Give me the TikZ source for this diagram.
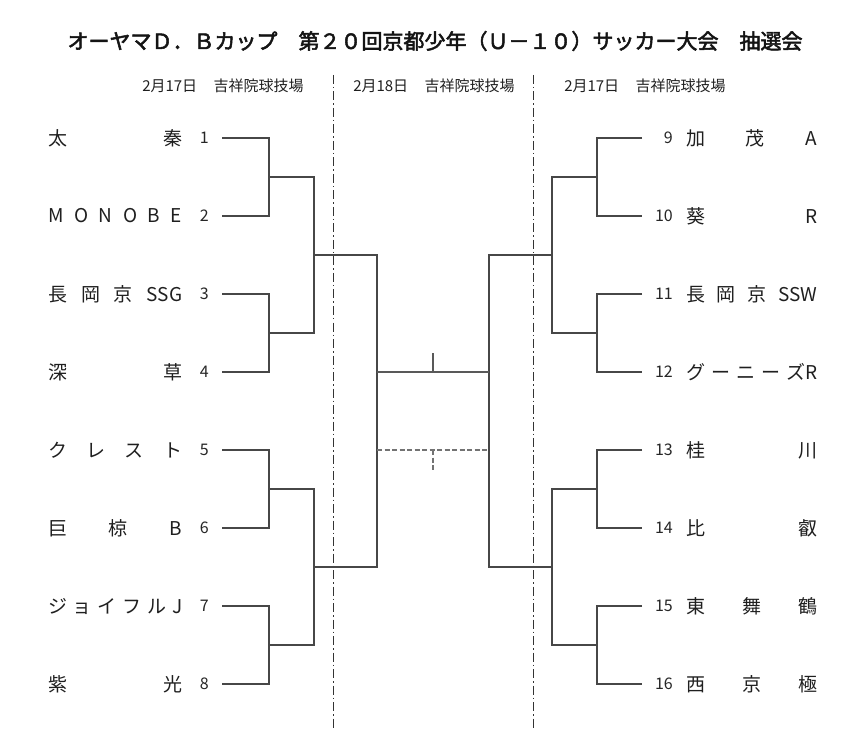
\documentclass[tikz,border=0pt]{standalone}
\usepackage{fontspec}
\setmainfont{Noto Sans CJK JP}
\newfontfamily\ttlfont[FakeBold=2.5]{Noto Sans CJK JP}
\newcommand\tmbox[2]{\makebox[#1][s]{#2}}
\begin{document}
\begin{tikzpicture}[x=1pt,y=-1pt,
  team/.style={inner sep=0pt, font=\fontsize{19}{19}\selectfont, text=black!88},
  num/.style={inner sep=0pt, font=\fontsize{16}{16}\selectfont, text=black!85},
  head/.style={inner sep=0pt, font=\fontsize{15}{15}\selectfont, text=black!88},
  ttl/.style={inner sep=0pt, font=\ttlfont\fontsize{21}{21}\selectfont, text=black!92},
  br/.style={draw=black!72, line width=1.1pt},
  divider/.style={draw=black!80, line width=0.9pt, dash pattern=on 9pt off 3pt on 1.5pt off 3pt},
  fin/.style={draw=black!65, line width=1.1pt},
  findash/.style={draw=black!55, line width=1.1pt, dash pattern=on 5pt off 2.5pt}]
\useasboundingbox[fill=white] (0,0) rectangle (852,738);

% title and headers
\node[ttl] (title) at (435,41) {オーヤマＤ．Ｂカップ　第２０回京都少年（Ｕ－１０）サッカー大会　抽選会};
\node[head] (h1) at (223,86) {2月17日\hspace{1.1em}吉祥院球技場};
\node[head] (h2) at (434,86) {2月18日\hspace{1.1em}吉祥院球技場};
\node[head] (h3) at (645,86) {2月17日\hspace{1.1em}吉祥院球技場};

% dividers
\coordinate (dA1) at (333,75); \coordinate (dA2) at (333,728);
\coordinate (dB1) at (533,75); \coordinate (dB2) at (533,728);
\draw[divider] (dA1) -- (dA2);
\draw[divider] (dB1) -- (dB2);

% left teams
\node[team, anchor=west] (t1) at (48,138) {\tmbox{134pt}{太\hfill 秦}};
\node[team, anchor=west] (t2) at (48,216) {\tmbox{134pt}{M\hfill O\hfill N\hfill O\hfill B\hfill E}};
\node[team, anchor=west] (t3) at (48,294) {\tmbox{134pt}{長\hfill 岡\hfill 京\hfill SSG}};
\node[team, anchor=west] (t4) at (48,372) {\tmbox{134pt}{深\hfill 草}};
\node[team, anchor=west] (t5) at (48,450) {\tmbox{134pt}{ク\hfill レ\hfill ス\hfill ト}};
\node[team, anchor=west] (t6) at (48,528) {\tmbox{134pt}{巨\hfill 椋\hfill B}};
\node[team, anchor=west] (t7) at (48,606) {\tmbox{134pt}{ジ\hfill ョ\hfill イ\hfill フ\hfill ル\hfill J}};
\node[team, anchor=west] (t8) at (48,684) {\tmbox{134pt}{紫\hfill 光}};

% right teams
\node[team, anchor=west] (t9) at (686,138) {\tmbox{131pt}{加\hfill 茂\hfill A}};
\node[team, anchor=west] (t10) at (686,216) {\tmbox{131pt}{葵\hfill R}};
\node[team, anchor=west] (t11) at (686,294) {\tmbox{131pt}{長\hfill 岡\hfill 京\hfill SSW}};
\node[team, anchor=west] (t12) at (686,372) {\tmbox{131pt}{グ\hfill ー\hfill ニ\hfill ー\hfill ズR}};
\node[team, anchor=west] (t13) at (686,450) {\tmbox{131pt}{桂\hfill 川}};
\node[team, anchor=west] (t14) at (686,528) {\tmbox{131pt}{比\hfill 叡}};
\node[team, anchor=west] (t15) at (686,606) {\tmbox{131pt}{東\hfill 舞\hfill 鶴}};
\node[team, anchor=west] (t16) at (686,684) {\tmbox{131pt}{西\hfill 京\hfill 極}};

% numbers and line starts
\foreach \i/\y in {1/138,2/216,3/294,4/372,5/450,6/528,7/606,8/684}{
  \node[num, anchor=east] (n\i) at (209,\y) {\i};
  \coordinate (s\i) at (222,\y);
}
\foreach \i/\y in {9/138,10/216,11/294,12/372,13/450,14/528,15/606,16/684}{
  \node[num, anchor=east] (n\i) at (673,\y) {\i};
  \coordinate (s\i) at (642,\y);
}

% left junctions
\coordinate (j12) at (269,177); \coordinate (j34) at (269,333);
\coordinate (j56) at (269,489); \coordinate (j78) at (269,645);
\coordinate (k12) at (314,177); \coordinate (k34) at (314,333);
\coordinate (k56) at (314,489); \coordinate (k78) at (314,645);
\coordinate (m14) at (314,255); \coordinate (m58) at (314,567);
\coordinate (p14) at (377,255); \coordinate (p58) at (377,567);

% right junctions
\coordinate (j910) at (597,177); \coordinate (j1112) at (597,333);
\coordinate (j1314) at (597,489); \coordinate (j1516) at (597,645);
\coordinate (k910) at (552,177); \coordinate (k1112) at (552,333);
\coordinate (k1314) at (552,489); \coordinate (k1516) at (552,645);
\coordinate (m912) at (552,255); \coordinate (m1316) at (552,567);
\coordinate (p912) at (489,255); \coordinate (p1316) at (489,567);

% left bracket
\draw[br] (s1) -| (j12) |- (s2);
\draw[br] (s3) -| (j34) |- (s4);
\draw[br] (s5) -| (j56) |- (s6);
\draw[br] (s7) -| (j78) |- (s8);
\draw[br] (j12) -- (k12) -- (k34) -- (j34);
\draw[br] (j56) -- (k56) -- (k78) -- (j78);
\draw[br] (m14) -- (p14) -- (p58) -- (m58);

% right bracket
\draw[br] (s9) -| (j910) |- (s10);
\draw[br] (s11) -| (j1112) |- (s12);
\draw[br] (s13) -| (j1314) |- (s14);
\draw[br] (s15) -| (j1516) |- (s16);
\draw[br] (j910) -- (k910) -- (k1112) -- (j1112);
\draw[br] (j1314) -- (k1314) -- (k1516) -- (j1516);
\draw[br] (m912) -- (p912) -- (p1316) -- (m1316);

% final and third place
\coordinate (fa) at (377,372); \coordinate (fb) at (489,372);
\coordinate (ft) at (433,372); \coordinate (ftop) at (433,353);
\coordinate (da) at (377,450); \coordinate (db) at (489,450);
\coordinate (dt) at (433,450); \coordinate (dbot) at (433,470);
\draw[fin] (fa) -- (fb);
\draw[fin] (ft) -- (ftop);
\draw[findash] (da) -- (db);
\draw[findash] (dt) -- (dbot);
\end{tikzpicture}
\end{document}
